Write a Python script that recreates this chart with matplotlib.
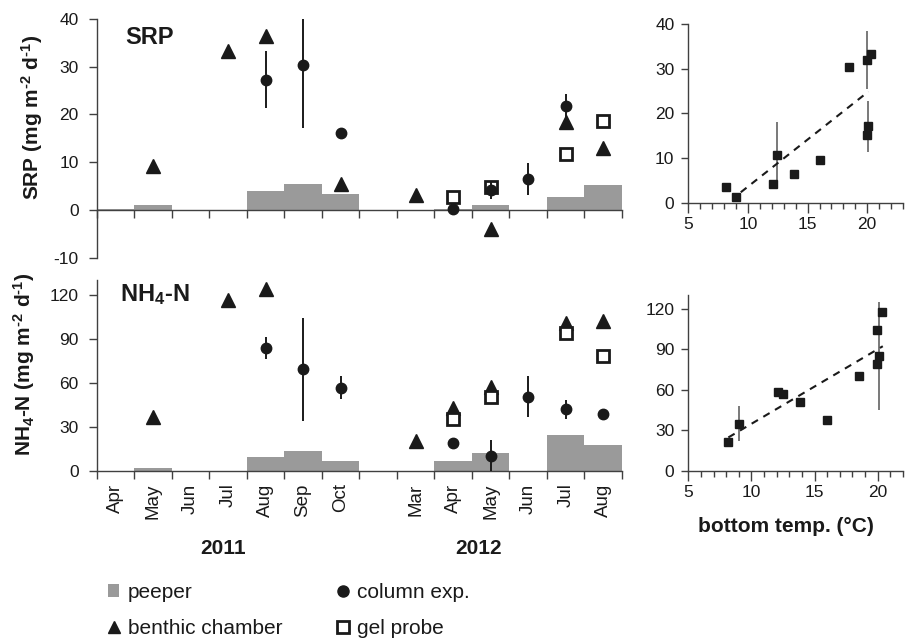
import numpy as np
import matplotlib.pyplot as plt
from matplotlib.lines import Line2D
from matplotlib.patches import Patch

plt.rcParams['font.family'] = ['Liberation Sans', 'DejaVu Sans']
plt.rcParams['mathtext.fontset'] = 'custom'
plt.rcParams['mathtext.rm'] = 'Liberation Sans'
plt.rcParams['mathtext.bf'] = 'Liberation Sans:bold'
plt.rcParams['mathtext.default'] = 'bf'
plt.rcParams['axes.unicode_minus'] = False

nan = np.nan

# monthly categories (blank slot between the two campaigns)
months = ['Apr', 'May', 'Jun', 'Jul', 'Aug', 'Sep', 'Oct', '',
          'Mar', 'Apr', 'May', 'Jun', 'Jul', 'Aug']
years = ['2011', '2012']

# SRP fluxes (mg m-2 d-1)
srp_peeper = [0.3, 1.0, nan, nan, 3.9, 5.5, 3.3, nan, nan, 0.3, 1.1, nan, 2.7, 5.2]
srp_chamber = [nan, 9.3, nan, 33.2, 36.4, nan, 5.5, nan, 3.2, nan, -4.0, nan, 18.5, 12.9]
srp_column = [nan, nan, nan, nan, 27.3, 30.4, 16.1, nan, nan, 0.2, 4.2, 6.5, 21.8, nan]
srp_column_err = [0, 0, 0, 0, 5.9, 13.3, 1.0, 0, 0, 0, 1.9, 3.3, 2.5, 0]
srp_gel = [nan, nan, nan, nan, nan, nan, nan, nan, nan, 2.8, 4.9, nan, 11.7, 18.7]

# NH4-N fluxes (mg m-2 d-1)
nh4_peeper = [nan, 2.3, nan, nan, 9.8, 13.6, 6.8, nan, nan, 6.8, 12.5, nan, 24.5, 17.5]
nh4_chamber = [nan, 37.0, nan, 116.6, 123.9, nan, nan, nan, 20.5, 42.7, 57.5, nan, 100.7, 102.3]
nh4_column = [nan, nan, nan, nan, 83.6, 69.3, 56.8, nan, nan, 19.3, 10.2, 50.5, 42.0, 39.1]
nh4_column_err = [0, 0, 0, 0, 7.7, 35.0, 8.0, 0, 0, 0, 11.0, 13.9, 6.5, 0]
nh4_gel = [nan, nan, nan, nan, nan, nan, nan, nan, nan, 35.5, 50.7, nan, 93.9, 78.0]

# flux vs bottom water temperature (chamber data)
srp_temp = [8.2, 8.97, 12.1, 12.46, 13.9, 16.0, 18.5, 20.0, 20.33, 20.1, 20.0]
srp_flux = [3.6, 1.3, 4.3, 10.7, 6.5, 9.7, 30.3, 32.0, 33.2, 17.1, 15.2]
srp_flux_err = [0, 0, 0, 7.4, 0, 0, 0, 6.5, 0, 5.6, 0]
srp_trend_x = [9.4, 20.1]
srp_trend_y = [2.4, 24.9]

nh4_temp = [8.17, 8.98, 12.1, 12.46, 13.87, 16.0, 18.5, 19.96, 20.36, 20.1, 19.96]
nh4_flux = [20.9, 34.7, 58.4, 56.4, 50.5, 37.2, 69.7, 104.4, 117.7, 85.0, 78.6]
nh4_flux_err = [0, 13.0, 0, 0, 0, 0, 0, 0, 0, 40.0, 0]
nh4_trend_x = [8.17, 20.4]
nh4_trend_y = [24.6, 92.1]

W, H = 906, 639
SPINE = '#404040'
INK = '#1a1a1a'
GREY = '#9a9a9a'


def rect(x0, y0, x1, y1):
    # pixel box (top-left origin) -> figure fraction
    return [x0 / W, 1 - y1 / H, (x1 - x0) / W, (y1 - y0) / H]


def style(ax):
    for s in ['top', 'right']:
        ax.spines[s].set_visible(False)
    for s in ['left', 'bottom']:
        ax.spines[s].set_color(SPINE)
        ax.spines[s].set_linewidth(1.0)
    ax.tick_params(colors=SPINE, labelcolor=INK, labelsize=12.5, width=1.0)
    ax.patch.set_alpha(0)


def series_panel(ax, peeper, chamber, column, column_err, gel):
    x = np.arange(len(months))
    ax.bar(x, peeper, width=1.0, color=GREY, zorder=1)
    ax.plot(x, chamber, '^', ms=10, color=INK, zorder=3, clip_on=False)
    ax.plot(x, gel, 's', ms=9, mfc='white', mec=INK, mew=2.0, zorder=4, clip_on=False)
    ax.errorbar(x, column, yerr=column_err, fmt='o', ms=7.5, color=INK,
                ecolor=INK, elinewidth=1.4, capsize=0, zorder=5)
    ax.set_xlim(-0.5, len(months) - 0.5)
    ax.set_xticks(np.arange(-0.5, len(months), 1.0))
    ax.set_xticklabels([])
    ax.tick_params(axis='x', which='major', direction='out', length=6)
    ax.tick_params(axis='y', direction='out', length=6, pad=7)


def temp_panel(ax, temp, flux, err, tx, ty):
    ax.errorbar(temp, flux, yerr=err, fmt='s', ms=6.3, color=INK,
                ecolor='#555555', elinewidth=1.1, capsize=0, zorder=3)
    ax.plot(tx, ty, color=INK, lw=1.5, dashes=(3.5, 3.0), zorder=4)
    ax.set_xticks([5, 10, 15, 20])
    ax.set_xticks(np.arange(5, 24, 1), minor=True)
    ax.tick_params(axis='x', which='major', direction='out', length=7, pad=3)
    ax.tick_params(axis='x', which='minor', direction='out', length=4,
                   color=SPINE, width=1.0)
    ax.tick_params(axis='y', direction='out', length=5, pad=5)


fig = plt.figure(figsize=(W / 100, H / 100), dpi=100)

# SRP time series
ax1 = fig.add_axes(rect(96.7, 19, 622, 257.7))
style(ax1)
series_panel(ax1, srp_peeper, srp_chamber, srp_column, srp_column_err, srp_gel)
ax1.set_ylim(-10, 40)
ax1.set_yticks([-10, 0, 10, 20, 30, 40])
ax1.spines['bottom'].set_position(('data', 0))

# NH4-N time series
ax2 = fig.add_axes(rect(96.7, 280, 622, 471))
style(ax2)
series_panel(ax2, nh4_peeper, nh4_chamber, nh4_column, nh4_column_err, nh4_gel)
ax2.set_ylim(0, 130)
ax2.set_yticks([0, 30, 60, 90, 120])
ax2.set_xticks(np.arange(len(months)), minor=True)
ax2.set_xticklabels(months, minor=True, rotation=90, fontsize=13.5, color=INK)
ax2.tick_params(axis='x', which='minor', length=0, pad=9)

# SRP vs temperature
ax3 = fig.add_axes(rect(688.3, 24, 903, 203))
style(ax3)
temp_panel(ax3, srp_temp, srp_flux, srp_flux_err, srp_trend_x, srp_trend_y)
ax3.set_xlim(5, 23)
ax3.set_ylim(0, 40)
ax3.set_yticks([0, 10, 20, 30, 40])

# NH4-N vs temperature
ax4 = fig.add_axes(rect(688.3, 295, 903, 470.7))
style(ax4)
temp_panel(ax4, nh4_temp, nh4_flux, nh4_flux_err, nh4_trend_x, nh4_trend_y)
ax4.set_xlim(5, 22)
ax4.set_ylim(0, 130)
ax4.set_yticks([0, 30, 60, 90, 120])

# labels (U+2010 hyphen keeps the short dash in the exponents)
fig.text(125 / W, 1 - 38 / H, 'SRP', fontsize=17, fontweight='bold',
         color=INK, ha='left', va='center')
fig.text(120 / W, 1 - 294.5 / H, r'NH$_{\mathbf{4}}$-N', fontsize=17,
         fontweight='bold', color=INK, ha='left', va='center')
fig.text(32 / W, 1 - 117 / H, 'SRP (mg m$^{\\mathbf{\u20102}}$ d$^{\\mathbf{\u20101}}$)',
         fontsize=15, fontweight='bold', color=INK, rotation=90,
         ha='center', va='center')
fig.text(24 / W, 1 - 364 / H,
         'NH$_{\\mathbf{4}}$-N (mg m$^{\\mathbf{\u20102}}$ d$^{\\mathbf{\u20101}}$)',
         fontsize=15, fontweight='bold', color=INK, rotation=90,
         ha='center', va='center')
fig.text(785.5 / W, 1 - 527 / H, 'bottom temp. (°C)', fontsize=15,
         fontweight='bold', color=INK, ha='center', va='center')
fig.text(222.7 / W, 1 - 548 / H, years[0], fontsize=15, fontweight='bold',
         color=INK, ha='center', va='center')
fig.text(479 / W, 1 - 548 / H, years[1], fontsize=15, fontweight='bold',
         color=INK, ha='center', va='center')

handles = [
    Patch(facecolor=GREY, edgecolor='none', label='peeper'),
    Line2D([], [], ls='none', marker='^', ms=9, color=INK, label='benthic chamber'),
    Line2D([], [], ls='none', marker='o', ms=8, color=INK, label='column exp.'),
    Line2D([], [], ls='none', marker='s', ms=8.5, mfc='white', mec=INK, mew=2.0,
           label='gel probe'),
]
fig.legend(handles=handles, ncol=2, loc='upper left',
           bbox_to_anchor=(108 / W, 1 - 583 / H), frameon=False, fontsize=15,
           handlelength=0.55, handleheight=0.55, handletextpad=0.4,
           labelspacing=0.8, columnspacing=2.65, borderaxespad=0, borderpad=0,
           labelcolor=INK)

fig.savefig('out.png', dpi=100)
